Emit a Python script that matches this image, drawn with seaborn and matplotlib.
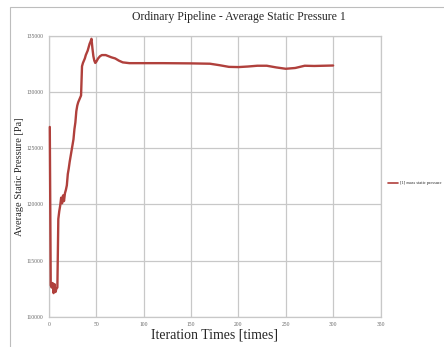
import numpy as np
import pandas as pd
import matplotlib
matplotlib.use("Agg")
import matplotlib.pyplot as plt
import seaborn as sns
from matplotlib.patches import Rectangle
from matplotlib.lines import Line2D

iterations = [1, 2, 3, 4, 5, 6, 7, 8, 9, 10, 11, 12, 13, 14, 15, 16, 17, 18, 19,
              20, 21, 22, 23, 24, 25, 26, 27, 28, 29, 30, 31, 32, 33, 34, 35, 36, 37,
              38, 39, 40, 41, 42, 43, 44, 45, 46, 47, 48, 49, 50, 52, 54, 56, 58, 60,
              63, 66, 70, 74, 78, 85, 100, 120, 150, 170, 180, 190, 200, 210, 220, 230,
              240, 250, 260, 270, 280, 290, 300]
pressure = [126900, 112800, 112600, 113000, 112100, 112900, 112200, 112500, 112600,
            118700, 119400, 119900, 120600, 120100, 120800, 120300, 121000,
            121300, 121700, 122700, 123200, 123800, 124300, 124800, 125300, 125800,
            126700, 127300, 128300, 128800, 129100, 129300, 129500, 129700, 132300,
            132600, 132800, 133000, 133300, 133500, 133700, 134000, 134300, 134500,
            134750, 133900, 133200, 132800, 132600, 132700, 133000, 133200, 133300,
            133300, 133300, 133200, 133100, 133000, 132800, 132650, 132580, 132580,
            132580, 132560, 132530, 132400, 132250, 132230, 132280, 132350, 132350,
            132200, 132080, 132150, 132350, 132330, 132350, 132370]
series_name = "[1] mass static pressure"
x_ticks = [0, 50, 100, 150, 200, 250, 300, 350]
y_ticks = [110000, 115000, 120000, 125000, 130000, 135000]

df = pd.DataFrame({"Iteration": iterations, "Pressure": pressure, "Series": series_name})

sns.set_style("white")
plt.rcParams["font.family"] = ["Liberation Serif", "DejaVu Serif"]

fig = plt.figure(figsize=(4.44, 3.47), dpi=100)
ax = fig.add_axes([0.110, 0.0873, 0.747, 0.809])

sns.lineplot(data=df, x="Iteration", y="Pressure", hue="Series",
             palette=["#b0403c"], linewidth=1.7, ax=ax, legend=False,
             clip_on=False, zorder=5)

ax.set_xlim(0, 350)
ax.set_ylim(110000, 135000)
ax.set_xticks(x_ticks)
ax.set_yticks(y_ticks)
ax.set_xticklabels([str(t) for t in x_ticks])
ax.set_yticklabels([str(t) for t in y_ticks])
ax.tick_params(axis="both", labelsize=4, colors="#666666", length=2.5, width=0.6,
               direction="out", pad=1.5)
ax.grid(True, color="#c8c8c8", linewidth=0.9)
for s in ax.spines.values():
    s.set_color("#c8c8c8")
    s.set_linewidth(0.9)

fig.text(239 / 444, 1 - 17 / 347, "Ordinary Pipeline - Average Static Pressure 1",
         fontsize=8.5, ha="center", va="center")
ax.set_xlabel("Iteration Times [times]", fontsize=10, labelpad=1)
ax.set_ylabel("Average Static Pressure [Pa]", fontsize=7.5, labelpad=2)

handle = Line2D([], [], color="#b0403c", linewidth=1.2)
fig.legend([handle], [series_name], loc="center left",
           bbox_to_anchor=(0.865, 0.472), frameon=False, fontsize=3.2,
           handlelength=2.2, handletextpad=0.4)

# chart border
fig.patches.append(Rectangle((10 / 444, -5 / 347), 440 / 444, 345 / 347,
                             transform=fig.transFigure, fill=False,
                             edgecolor="#bdbdbd", linewidth=0.8))

fig.savefig("out.png", dpi=100)
